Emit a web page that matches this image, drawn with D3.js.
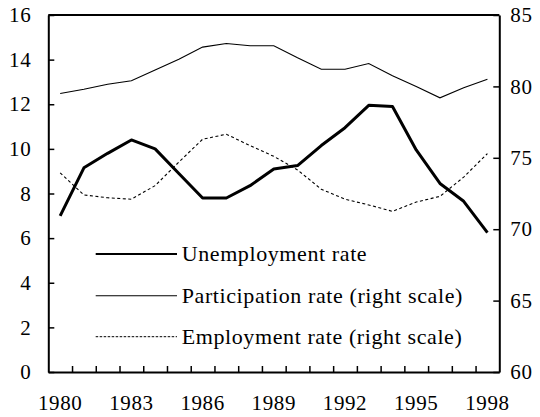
<!DOCTYPE html>
<html><head><meta charset="utf-8">
<script src="https://cdn.jsdelivr.net/npm/d3@7"></script>
<style>body{margin:0;background:#fff}svg{display:block}text{font-family:"Liberation Serif","Times New Roman",serif;fill:#000}</style>
</head><body><svg id="c" width="540" height="417"></svg>
<script>
const years = d3.range(1980, 1999);
const unemployment = [7.0,9.15,9.8,10.4,10.0,8.9,7.8,7.8,8.35,9.1,9.25,10.15,10.95,11.95,11.9,9.95,8.45,7.65,6.25];
const participation = [79.5,79.8,80.15,80.4,81.15,81.9,82.75,83.0,82.85,82.85,82.0,81.2,81.2,81.6,80.75,80.0,79.2,79.9,80.5];
const employment = [73.95,72.4,72.2,72.1,73.05,74.7,76.3,76.65,75.85,75.1,74.15,72.8,72.1,71.7,71.25,71.9,72.3,73.65,75.3];
const xLabels = [1980,1983,1986,1989,1992,1995,1998];
const leftTicks = [0,2,4,6,8,10,12,14,16];
const rightTicks = [60,65,70,75,80,85];
const legendNames = ["Unemployment rate","Participation rate (right scale)","Employment rate (right scale)"];

const svg = d3.select("#c");
const L = 48.3, R = 499.3, T = 15, B = 372;
const x = d3.scaleBand().domain(years).range([L, R]);
const cx = d => x(d) + x.bandwidth()/2;
const yL = d3.scaleLinear().domain([0,16]).range([B, T]);
const yR = d3.scaleLinear().domain([60,85]).range([B, T]);

// frame top
svg.append("line").attr("x1",L).attr("x2",R).attr("y1",T).attr("y2",T).attr("stroke","#000").attr("stroke-width",2);

// left axis
const gl = svg.append("g").attr("transform",`translate(${L},0)`)
  .call(d3.axisLeft(yL).tickValues(leftTicks).tickSizeInner(-6).tickSizeOuter(0).tickPadding(17).tickFormat(d3.format("d")));
// right axis
const gr = svg.append("g").attr("transform",`translate(${R},0)`)
  .call(d3.axisRight(yR).tickValues(rightTicks).tickSizeInner(-6).tickSizeOuter(0).tickPadding(11).tickFormat(d3.format("d")));
// bottom axis (labels)
const gb = svg.append("g").attr("transform",`translate(0,${B})`)
  .call(d3.axisBottom(x).tickValues(xLabels).tickSize(0).tickSizeOuter(0).tickPadding(23));
// bottom boundary ticks
const gb2 = svg.append("g").attr("transform",`translate(0,${B})`)
  .call(d3.axisBottom(d3.scaleLinear().domain([0,19]).range([L,R])).tickValues(d3.range(1,19)).tickSizeInner(-6).tickSizeOuter(0).tickFormat(""));
gb2.select(".domain").remove();

[gl,gr,gb,gb2].forEach(g=>{
  g.selectAll(".domain").attr("stroke","#000").attr("stroke-width",2);
  g.selectAll(".tick line").attr("stroke","#000").attr("stroke-width",1.5);
  g.selectAll("text").attr("font-size","21px").attr("letter-spacing","0.6px").attr("fill","#000")
    .style("font-family",'"Liberation Serif","Times New Roman",serif');
});

const lineU = d3.line().x((d,i)=>cx(years[i])).y(d=>yL(d));
const lineR = d3.line().x((d,i)=>cx(years[i])).y(d=>yR(d));

svg.append("path").attr("d",lineR(participation)).attr("fill","none").attr("stroke","#000").attr("stroke-width",1.1);
svg.append("path").attr("d",lineR(employment)).attr("fill","none").attr("stroke","#000").attr("stroke-width",1.1).attr("stroke-dasharray","3,2.5");
svg.append("path").attr("d",lineU(unemployment)).attr("fill","none").attr("stroke","#000").attr("stroke-width",3).attr("stroke-linejoin","round");

// legend
const legY = [254, 295.7, 336.7];
const legStyles = [{w:2.2,dash:null},{w:1.1,dash:null},{w:1,dash:"2.5,1.5"}];
legendNames.forEach((n,i)=>{
  const s = legStyles[i];
  const ln = svg.append("line").attr("x1",95.7).attr("x2",177).attr("y1",legY[i]).attr("y2",legY[i])
    .attr("stroke","#000").attr("stroke-width",s.w);
  if (s.dash) ln.attr("stroke-dasharray",s.dash);
  svg.append("text").attr("x",181.7).attr("y",legY[i]+7).attr("font-size","22px").attr("letter-spacing","0.6px").text(n);
});
</script></body></html>
